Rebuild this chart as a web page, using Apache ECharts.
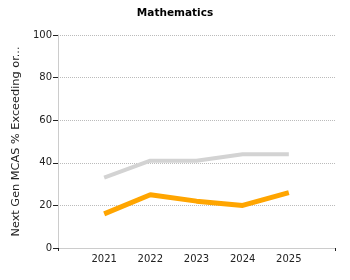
<!DOCTYPE html>
<html lang="en">
<head>
  <meta charset="UTF-8">
  <title>Mathematics</title>
  <script src="https://cdn.jsdelivr.net/npm/echarts@6/dist/echarts.min.js"></script>
  <style>
    html,body{padding:0;margin:0;background:#fff;}
    #chart{width:350px;height:280px;}
  </style>
</head>
<body>
  <div id="chart"></div>
  <script>
    // categories padded with blanks at both ends so the years sit inside the axis
    const years = ['', '2021', '2022', '2023', '2024', '2025', ''];
    const stateVals = [null, 33, 41, 41, 44, 44, null];   // grey line
    const schoolVals = [null, 16, 25, 22, 20, 26, null];  // orange line
    const yTicks = [0, 20, 40, 60, 80, 100];

    const font = 'DejaVu Sans';
    let option = {
      animation: false,
      textStyle: {fontFamily: font},
      title: {
        text: 'Mathematics',
        left: 'center',
        top: 3,
        textStyle: {fontFamily: font, fontSize: 10.5, fontWeight: 'bold', color: '#000'}
      },
      grid: {left: 58, right: 15, top: 35, bottom: 32},
      xAxis: {
        type: 'category',
        data: years,
        boundaryGap: false,
        axisLine: {lineStyle: {color: '#ccc'}},
        axisTick: {
          interval: (i) => i === 0 || i === years.length - 1,
          length: 3,
          lineStyle: {color: '#222'}
        },
        axisLabel: {interval: 0, fontSize: 10, color: '#222', margin: 6},
        splitLine: {show: false}
      },
      yAxis: {
        type: 'value',
        min: yTicks[0],
        max: yTicks[yTicks.length - 1],
        interval: 20,
        name: 'Next Gen MCAS % Exceeding or...',
        nameLocation: 'middle',
        nameGap: 35,
        nameTextStyle: {fontSize: 11.3, color: '#222'},
        axisLine: {show: true, lineStyle: {color: '#ccc'}},
        axisTick: {show: true, length: 5, lineStyle: {color: '#222'}},
        axisLabel: {fontSize: 10, color: '#222', margin: 6},
        splitLine: {lineStyle: {color: '#bbb', type: 'dotted'}}
      },
      series: [
        {
          name: 'State',
          type: 'line',
          data: stateVals,
          symbol: 'none',
          lineStyle: {color: '#d3d3d3', width: 4},
          z: 2
        },
        {
          name: 'School',
          type: 'line',
          data: schoolVals,
          symbol: 'none',
          lineStyle: {color: '#ffa500', width: 5},
          z: 3
        }
      ]
    };
    let myChart = echarts.init(document.getElementById('chart'));
    myChart.setOption(option);
  </script>
</body>
</html>
